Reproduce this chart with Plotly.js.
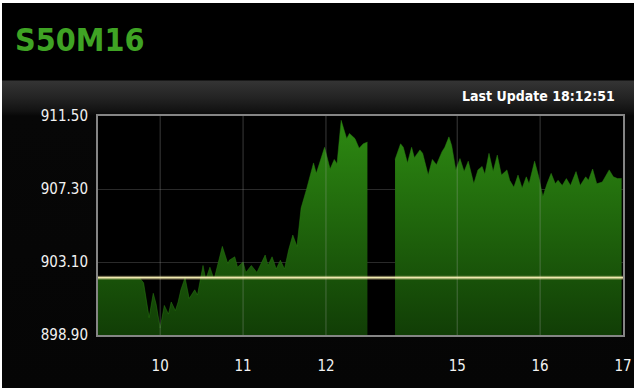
<!DOCTYPE html>
<html>
<head>
<meta charset="utf-8">
<script src="https://cdn.plot.ly/plotly-3.0.1.min.js"></script>
<style>
  html, body { margin: 0; padding: 0; background: #ffffff; width: 640px; height: 390px; overflow: hidden; }
  #chart {
    position: absolute; left: 2px; top: 3px; width: 632px; height: 385px;
    background: linear-gradient(to bottom, #000 0px, #000 77px, #343434 78px, #232323 95px, #121212 108px, #070707 113px, #050505 100%);
  }
</style>
</head>
<body>
<div id="chart"></div>
<script>
// ---- data ----
const tradeDate = '2016-05-27';
const prevClose = 902.2;

const morningTimes = ['09:15','09:45','09:48','09:52','09:55','09:57','10:00','10:03','10:06','10:08','10:11','10:13','10:15','10:18','10:21','10:25','10:27','10:31','10:33','10:36','10:39','10:41','10:45','10:49','10:50','10:54','10:56','11:00','11:02','11:06','11:10','11:16','11:18','11:21','11:24','11:27','11:30','11:33','11:36','11:39','11:42','11:46','11:51','11:53','11:59','12:03','12:06','12:08','12:11','12:15','12:17','12:21','12:24','12:27','12:30'];
const morningPrices = [902.2,902.2,901.9,899.9,901.3,900.7,899.3,900.6,900.1,900.8,900.3,900.8,901.5,902.2,901.0,901.5,901.2,902.9,902.1,902.8,902.1,902.7,904.0,903.0,903.2,903.4,902.8,903.1,902.5,902.9,902.5,903.5,902.9,903.4,902.7,903.2,902.7,903.8,904.65,904.0,906.2,907.3,908.8,908.2,909.7,908.45,909.0,908.75,911.25,910.2,910.5,910.2,909.65,909.9,910.0];

const afternoonTimes = ['14:15','14:19','14:21','14:24','14:27','14:29','14:33','14:35','14:39','14:42','14:45','14:49','14:51','14:54','14:56','14:59','15:02','15:05','15:08','15:12','15:15','15:18','15:20','15:23','15:26','15:29','15:32','15:36','15:38','15:41','15:44','15:47','15:50','15:52','15:56','15:59','16:02','16:05','16:08','16:11','16:13','16:16','16:19','16:22','16:26','16:29','16:33','16:35','16:38','16:41','16:45','16:50','16:53','16:56','16:59'];
const afternoonPrices = [909.0,909.9,909.7,908.8,909.7,909.1,909.55,909.35,908.1,909.0,908.7,909.45,909.7,910.3,909.8,908.4,909.05,908.3,908.9,907.6,908.4,908.6,908.15,909.35,908.3,909.25,908.1,908.4,907.8,907.4,908.1,907.35,908.0,907.6,908.9,908.0,906.85,907.6,908.2,907.6,907.8,907.5,907.9,907.5,908.3,907.5,908.0,907.8,908.45,907.6,907.7,908.4,908.0,907.9,907.9];

const xTickTimes = ['10:00','11:00','12:00','15:00','16:00','17:00'];
const xTickLabels = ['10','11','12','15','16','17'];
const yTickValues = [898.9, 903.1, 907.3, 911.5];
const yTickLabels = ['898.90','903.10','907.30','911.50'];
const axisStart = '09:15', axisEnd = '17:00';
const breakStart = '12:50', breakEnd = '14:15';
const chartTitle = 'S50M16';
const updateText = 'Last Update 18:12:51';

// ---- build ----
const d = t => tradeDate + ' ' + t;
const FONT = '"Liberation Sans Narrow", "Arial Narrow", "DejaVu Sans Condensed", sans-serif';
const yMin = yTickValues[0], yMax = yTickValues[yTickValues.length - 1];

const fillGrad = {
  type: 'vertical', start: yMin, stop: yMax,
  colorscale: [[0, 'rgb(17,62,6)'], [1, 'rgb(46,140,18)']]
};

function session(times, prices) {
  return {
    type: 'scatter', mode: 'lines',
    x: times.map(d), y: prices,
    line: { color: 'rgb(40,125,16)', width: 0.5 },
    fill: 'tozeroy', fillgradient: fillGrad,
    hoverinfo: 'skip', showlegend: false
  };
}

const traces = [session(morningTimes, morningPrices), session(afternoonTimes, afternoonPrices)];

const shapes = [];
xTickTimes.slice(0, -1).forEach(t => shapes.push({
  type: 'line', xref: 'x', yref: 'paper', x0: d(t), x1: d(t), y0: 0, y1: 1,
  line: { color: 'rgba(170,170,170,0.34)', width: 1 }, layer: 'above'
}));
shapes.push({ type: 'line', xref: 'paper', x0: 0, x1: 1, yref: 'y', y0: prevClose, y1: prevClose,
  line: { color: 'rgba(230,220,150,0.35)', width: 4 }, layer: 'above' });
shapes.push({ type: 'line', xref: 'paper', x0: 0, x1: 1, yref: 'y', y0: prevClose, y1: prevClose,
  line: { color: '#efe8b0', width: 1.6 }, layer: 'above' });

const layout = {
  width: 632, height: 385,
  margin: { l: 96, r: 11, t: 113, b: 53 },
  paper_bgcolor: 'rgba(0,0,0,0)',
  plot_bgcolor: '#000000',
  font: { family: FONT, color: '#f2f2f2', size: 15 },
  title: {
    text: chartTitle,
    font: { family: FONT, size: 32, color: '#3fa324', weight: 'bold' },
    xref: 'container', yref: 'container', x: 13 / 632, xanchor: 'left', y: 0.905, yanchor: 'middle'
  },
  xaxis: {
    type: 'date',
    range: [d(axisStart), d(axisEnd)],
    rangebreaks: [{ bounds: [d(breakStart), d(breakEnd)] }],
    tickmode: 'array', tickvals: xTickTimes.map(d), ticktext: xTickLabels,
    showgrid: false, zeroline: false,
    showline: true, mirror: true, linecolor: '#858585', linewidth: 2,
    ticks: '', ticklabelstandoff: 16,
    tickfont: { family: FONT, size: 15, color: '#f2f2f2' },
    fixedrange: true
  },
  yaxis: {
    range: [yMin, yMax],
    tickmode: 'array', tickvals: yTickValues, ticktext: yTickLabels,
    showgrid: true, gridcolor: '#2a2a2a', gridwidth: 1, zeroline: false,
    showline: true, mirror: true, linecolor: '#858585', linewidth: 2,
    ticks: '', ticklabelstandoff: 5,
    tickfont: { family: FONT, size: 15, color: '#f2f2f2' },
    fixedrange: true
  },
  shapes: shapes,
  annotations: [{
    text: updateText, showarrow: false,
    xref: 'paper', yref: 'paper', x: 0.988, xanchor: 'right', y: 1.091, yanchor: 'middle',
    font: { family: FONT, size: 14, color: '#ffffff', weight: 'bold' }
  }]
};

Plotly.newPlot('chart', traces, layout, { staticPlot: true, displayModeBar: false });
</script>
</body>
</html>
